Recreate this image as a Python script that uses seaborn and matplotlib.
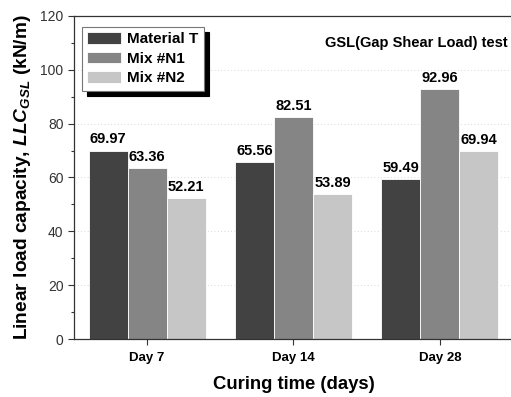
import matplotlib
matplotlib.use("Agg")
import matplotlib.pyplot as plt
import seaborn as sns
import pandas as pd

days = ["Day 7", "Day 14", "Day 28"]
series = ["Material T", "Mix #N1", "Mix #N2"]
material_t = [69.97, 65.56, 59.49]
mix_n1 = [63.36, 82.51, 92.96]
mix_n2 = [52.21, 53.89, 69.94]
colors = ["#424242", "#858585", "#c6c6c6"]

sns.set_style("ticks")
plt.rcParams["font.family"] = ["Liberation Sans", "DejaVu Sans"]
plt.rcParams["text.color"] = "black"
plt.rcParams["axes.labelcolor"] = "black"
plt.rcParams["mathtext.fontset"] = "custom"
plt.rcParams["mathtext.it"] = "Liberation Sans:bold:italic"
plt.rcParams["mathtext.rm"] = "Liberation Sans:bold"
plt.rcParams["mathtext.bf"] = "Liberation Sans:bold"

rows = []
for name, vals in zip(series, [material_t, mix_n1, mix_n2]):
    for d, v in zip(days, vals):
        rows.append({"day": d, "series": name, "value": v})
df = pd.DataFrame(rows)

fig = plt.figure(figsize=(5.11, 3.97), dpi=100)
ax = fig.add_axes([0.1448, 0.146, 0.859, 0.814])

sns.barplot(data=df, x="day", y="value", hue="series", order=days,
            hue_order=series, palette=colors, width=0.8, ax=ax,
            edgecolor="white", linewidth=0.6, saturation=1, errorbar=None)

for cont in ax.containers:
    ax.bar_label(cont, fmt="%.2f", padding=3, fontsize=10.5, fontweight="bold",
                 color="black")

ax.set_ylim(0, 120)
ax.set_xlim(-0.5, 2.5)
ax.set_yticks(range(0, 121, 20))
ax.set_yticks(range(10, 121, 20), minor=True)
ax.tick_params(axis="y", labelsize=10, length=4, width=0.8, colors="#333333",
               labelcolor="#333333")
ax.tick_params(axis="y", which="minor", length=2.5, width=0.8, colors="#333333")
ax.tick_params(axis="x", labelsize=9.5, length=4, width=0.8, colors="#333333",
               labelcolor="black", pad=5)
for lab in ax.get_xticklabels():
    lab.set_fontweight("bold")
ax.grid(axis="y", linestyle=(0, (1, 3)), color="#cccccc", linewidth=0.6)
ax.set_axisbelow(True)

for s in ["left", "bottom", "top"]:
    ax.spines[s].set_color("#333333")
    ax.spines[s].set_linewidth(0.9)
ax.spines["right"].set_visible(False)

ax.set_xlabel("Curing time (days)", fontsize=13.3, fontweight="bold", labelpad=9)
ax.set_ylabel(r"Linear load capacity, $\mathit{LLC}_{\mathit{GSL}}$ (kN/m)",
              fontsize=13.8, fontweight="bold", labelpad=5)

ax.text(0.989, 0.916, "GSL(Gap Shear Load) test", transform=ax.transAxes,
        ha="right", va="center", fontsize=10.5, fontweight="bold")

leg = ax.legend(loc="upper left", bbox_to_anchor=(0.018, 0.966), frameon=True,
                fancybox=False, shadow={"color": "black", "alpha": 1, "ox": 4, "oy": -4},
                prop={"weight": "bold", "size": 11}, handlelength=2.2,
                handleheight=0.8, labelspacing=0.35, borderpad=0.35,
                handletextpad=0.4, borderaxespad=0)
leg.get_frame().set_edgecolor("#777777")
leg.get_frame().set_linewidth(0.8)
leg.set_title(None)

fig.savefig("out.png", dpi=100)
